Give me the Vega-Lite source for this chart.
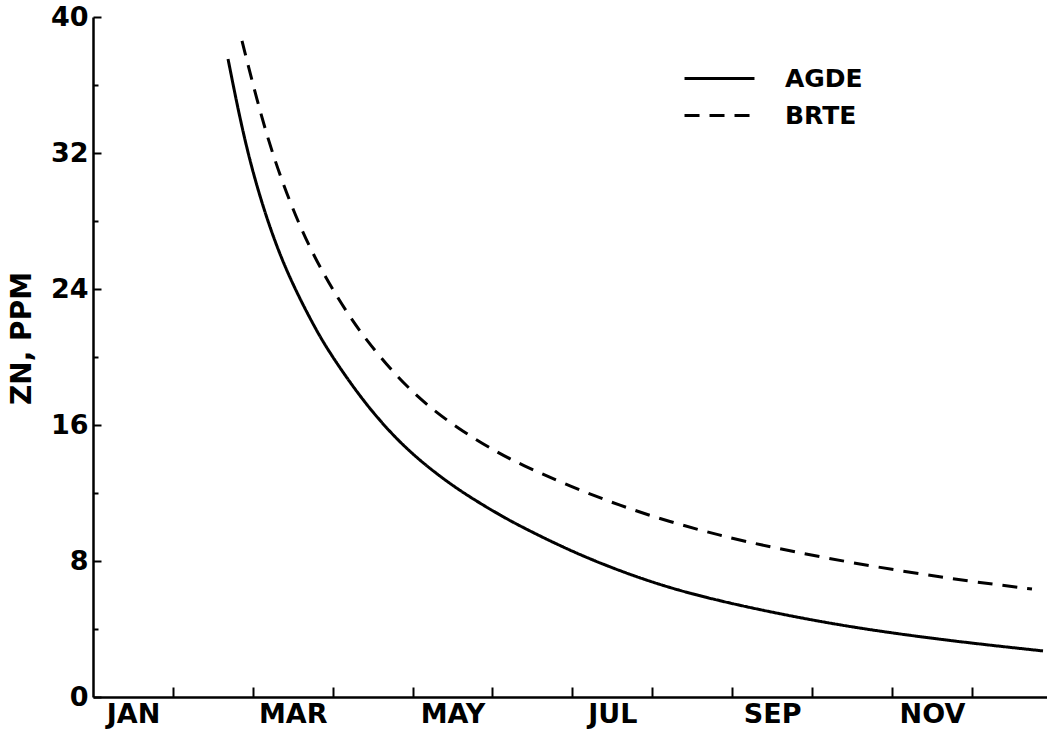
{
  "$schema": "https://vega.github.io/schema/vega-lite/v6.json",
  "width": 954,
  "height": 680,
  "autosize": {"type": "none"},
  "padding": {"left": 93, "top": 17, "right": 0, "bottom": 34},
  "background": "white",
  "config": {"view": {"stroke": null}, "font": "DejaVu Sans"},
  "data": {
    "values": [
      {"species": "AGDE", "month": 1.690, "zn": 37.53},
      {"species": "AGDE", "month": 1.877, "zn": 33.1},
      {"species": "AGDE", "month": 2.090, "zn": 29.3},
      {"species": "AGDE", "month": 2.378, "zn": 25.4},
      {"species": "AGDE", "month": 2.753, "zn": 21.9},
      {"species": "AGDE", "month": 2.966, "zn": 20.2},
      {"species": "AGDE", "month": 3.379, "zn": 17.4},
      {"species": "AGDE", "month": 3.805, "zn": 15.1},
      {"species": "AGDE", "month": 4.218, "zn": 13.4},
      {"species": "AGDE", "month": 4.631, "zn": 12.0},
      {"species": "AGDE", "month": 5.056, "zn": 10.8},
      {"species": "AGDE", "month": 5.344, "zn": 10.05},
      {"species": "AGDE", "month": 5.970, "zn": 8.6},
      {"species": "AGDE", "month": 6.596, "zn": 7.4},
      {"species": "AGDE", "month": 7.222, "zn": 6.4},
      {"species": "AGDE", "month": 7.847, "zn": 5.65},
      {"species": "AGDE", "month": 8.473, "zn": 5.0},
      {"species": "AGDE", "month": 9.474, "zn": 4.1},
      {"species": "AGDE", "month": 10.726, "zn": 3.3},
      {"species": "AGDE", "month": 11.890, "zn": 2.71},
      {"species": "BRTE", "month": 1.865, "zn": 38.59},
      {"species": "BRTE", "month": 2.090, "zn": 34.4},
      {"species": "BRTE", "month": 2.303, "zn": 31.1},
      {"species": "BRTE", "month": 2.591, "zn": 27.6},
      {"species": "BRTE", "month": 2.879, "zn": 24.9},
      {"species": "BRTE", "month": 3.179, "zn": 22.6},
      {"species": "BRTE", "month": 3.404, "zn": 21.1},
      {"species": "BRTE", "month": 3.805, "zn": 18.8},
      {"species": "BRTE", "month": 4.218, "zn": 17.0},
      {"species": "BRTE", "month": 4.631, "zn": 15.6},
      {"species": "BRTE", "month": 5.056, "zn": 14.4},
      {"species": "BRTE", "month": 5.344, "zn": 13.7},
      {"species": "BRTE", "month": 5.970, "zn": 12.4},
      {"species": "BRTE", "month": 6.596, "zn": 11.25},
      {"species": "BRTE", "month": 7.222, "zn": 10.3},
      {"species": "BRTE", "month": 7.847, "zn": 9.5},
      {"species": "BRTE", "month": 8.473, "zn": 8.82},
      {"species": "BRTE", "month": 9.474, "zn": 7.9},
      {"species": "BRTE", "month": 10.726, "zn": 6.95},
      {"species": "BRTE", "month": 11.752, "zn": 6.35}
    ]
  },
  "mark": {"type": "line", "interpolate": "basis", "strokeWidth": 3, "color": "black"},
  "encoding": {
    "x": {
      "field": "month",
      "type": "quantitative",
      "scale": {"domain": [0, 11.94], "nice": false, "zero": false},
      "axis": {
        "title": null,
        "grid": false,
        "values": [0.5, 1, 2, 2.5, 3, 4, 4.5, 5, 6, 6.5, 7, 8, 8.5, 9, 10, 10.5, 11],
        "labelExpr": "datum.value == 0.5 ? 'JAN' : datum.value == 2.5 ? 'MAR' : datum.value == 4.5 ? 'MAY' : datum.value == 6.5 ? 'JUL' : datum.value == 8.5 ? 'SEP' : datum.value == 10.5 ? 'NOV' : ''",
        "labelOverlap": false,
        "labelFlush": false,
        "tickOpacity": {"condition": {"test": "datum.value % 1 == 0", "value": 1}, "value": 0},
        "tickSize": -10,
        "tickWidth": 2,
        "tickColor": "black",
        "domainColor": "black",
        "domainWidth": 2.5,
        "labelFont": "DejaVu Sans",
        "labelFontWeight": "bold",
        "labelFontSize": 27,
        "labelColor": "black",
        "labelPadding": 14
      }
    },
    "y": {
      "field": "zn",
      "type": "quantitative",
      "scale": {"domain": [0, 40], "nice": false},
      "axis": {
        "title": "ZN, PPM",
        "grid": false,
        "values": [0, 4, 8, 12, 16, 20, 24, 28, 32, 36, 40],
        "labelExpr": "datum.value % 8 == 0 ? datum.label : ''",
        "labelOverlap": false,
        "labelFlush": false,
        "tickSize": {"condition": {"test": "datum.value % 8 == 0", "value": -8}, "value": -5},
        "tickWidth": 2,
        "tickColor": "black",
        "domainColor": "black",
        "domainWidth": 2.5,
        "labelFont": "DejaVu Sans",
        "labelFontWeight": "bold",
        "labelFontSize": 27,
        "labelColor": "black",
        "labelPadding": 13,
        "titleFont": "DejaVu Sans",
        "titleFontWeight": "bold",
        "titleFontSize": 28,
        "titleColor": "black",
        "titleX": -63,
        "titleY": 321,
        "titleBaseline": "alphabetic"
      }
    },
    "strokeDash": {
      "field": "species",
      "type": "nominal",
      "scale": {"domain": ["AGDE", "BRTE"], "range": [[1, 0], [15, 10]]},
      "legend": {
        "title": null,
        "orient": "none",
        "legendX": 613,
        "legendY": 48,
        "symbolType": "M-3,0H3",
        "symbolSize": 544,
        "symbolStrokeWidth": 3,
        "symbolStrokeColor": "black",
        "labelFont": "DejaVu Sans",
        "labelFontWeight": "bold",
        "labelFontSize": 25,
        "labelColor": "black",
        "labelOffset": 52,
        "rowPadding": 10
      }
    }
  }
}
